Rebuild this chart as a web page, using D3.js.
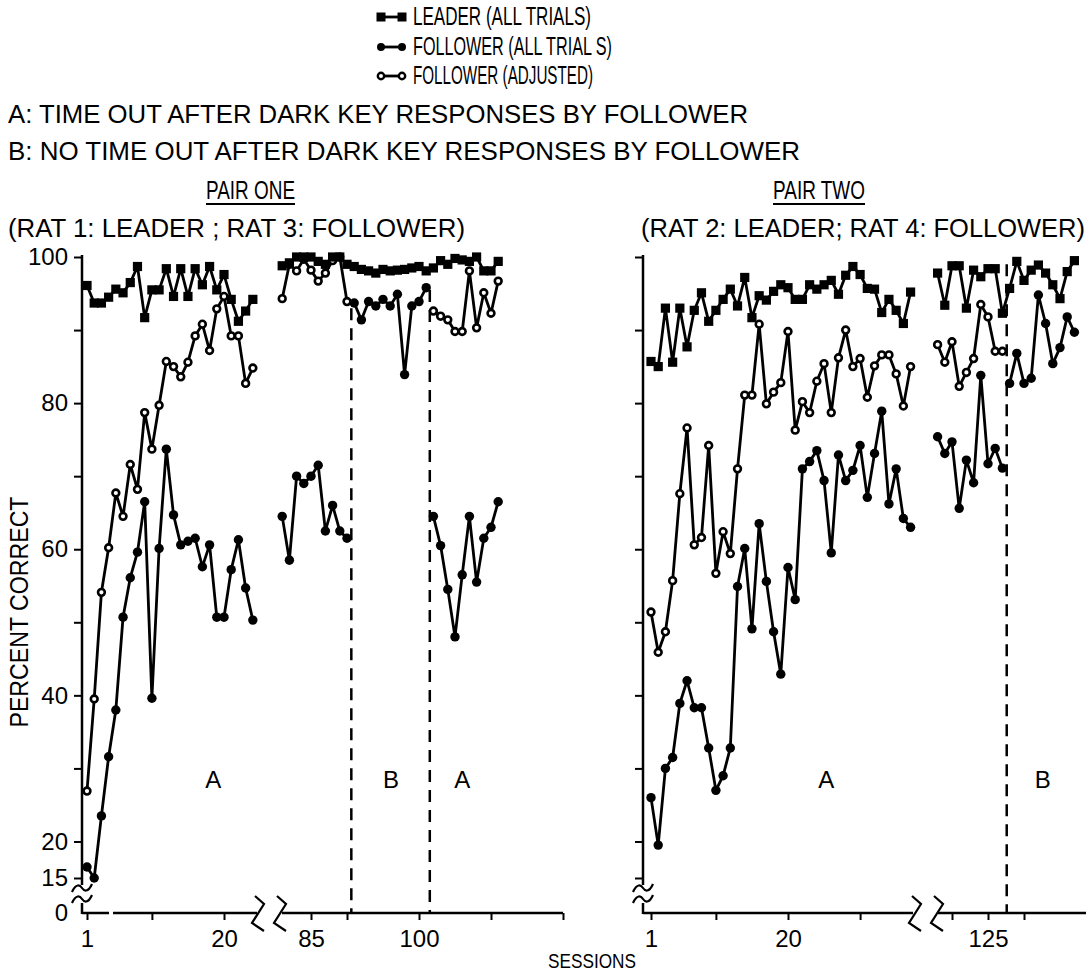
<!DOCTYPE html>
<html>
<head>
<meta charset="utf-8">
<script src="https://cdn.jsdelivr.net/npm/d3@7"></script>
<style>
  body { margin: 0; background: #fff; }
  svg { display: block; }
</style>
</head>
<body>
<svg id="chart" width="1092" height="974"></svg>
<script>
// ---------------- data (percent correct per session) ----------------
// Pair one: rat 1 leader, rat 3 follower
const p1EarlyStart = 1;
const p1LeaderEarly   = [96.1,93.7,93.7,94.5,95.6,95.1,96.5,98.7,91.7,95.5,95.5,98.4,94.6,98.4,94.6,98.4,96.2,98.7,95.5,97.6,94.2,91.2,92.6,94.2];
const p1FollowerEarly = [16.5,15.0,23.5,31.6,38.0,50.7,56.1,59.6,66.5,39.6,60.1,73.7,64.7,60.6,61.1,61.5,57.6,60.6,50.7,50.7,57.2,61.3,54.7,50.3];
const p1AdjustedEarly = [26.9,39.5,54.1,60.2,67.7,64.5,71.6,68.2,78.7,73.7,79.7,85.7,85.0,83.6,85.6,89.2,90.8,87.2,92.9,94.6,89.2,89.2,82.7,84.8];

const p1LateStart = 81;
const p1LeaderLate = [98.8,99.2,100,100,100,99.4,99.0,100,100,99.0,
                      98.7,98.3,98.1,97.8,98.3,98.1,98.2,98.3,98.5,98.7,98.1,
                      98.5,99.5,99.0,99.8,99.6,99.4,100,98.1,98.1,99.4];
const p1FollowerA1 = [64.5,58.5,70,69,70,71.5,62.5,66,62.5,61.5];          // sessions 81-90
const p1AdjustedA1 = [94.3,99.0,98.1,99.7,98.2,96.7,97.8,99.5,100,93.9];    // sessions 81-90
const p1FollowerBStart = 91;
const p1FollowerB  = [93.7,91.4,93.9,93.3,94.2,93.3,94.9,83.9,93.3,93.9,95.8]; // sessions 91-101
const p1A2Start = 102;
const p1FollowerA2 = [64.5,60.5,54.5,48,56.5,64.5,55.5,61.5,63,66.5];       // sessions 102-111
const p1AdjustedA2 = [92.6,91.9,91.4,89.8,89.8,98.1,90.3,95.1,92.3,96.7];   // sessions 102-111

// Pair two: rat 2 leader, rat 4 follower
const p2EarlyStart = 1;
const p2LeaderEarly   = [85.7,85.0,93.0,85.6,93.0,87.7,92.7,95.1,91.2,92.7,94.2,95.6,93.3,97.2,91.7,94.7,94.1,95.3,96.2,95.8,
                         94.2,94.2,96.2,95.6,96.2,96.8,94.9,97.5,98.7,97.6,95.7,95.6,92.4,94.2,92.7,90.9,95.2];
const p2FollowerEarly = [26,19.5,30,31.5,38.9,42,38.3,38.3,32.8,27,29,32.8,54.9,60.1,49.1,63.5,55.6,48.7,42.9,57.5,
                         53.1,71,72,73.5,69.4,59.5,72.9,69.4,70.8,74.2,67.1,73.1,78.9,66.2,71,64.2,63];
const p2AdjustedEarly = [51.4,45.9,48.7,55.7,67.6,76.6,60.6,61.6,74.2,56.7,62.4,59.4,71.0,81.1,81.1,90.8,79.9,81.5,82.8,89.8,
                         76.3,80.2,78.7,83.0,85.4,78.7,86.2,90.0,85.0,86.1,80.8,85.1,86.6,86.6,84.0,79.6,85.0];

const p2LateStart = 118;
const p2LeaderLate   = [97.8,93.4,98.8,98.8,93.0,98.2,97.3,98.4,98.4,92.3,
                        95.7,99.4,96.8,98.2,98.9,97.8,96.2,94.3,98.0,99.5];
const p2FollowerA    = [75.4,73.1,74.7,65.6,72.2,69.1,83.8,71.7,73.8,71.1];   // sessions 118-127
const p2AdjustedA    = [88.0,85.6,88.4,82.3,84.2,86.1,93.5,91.8,87.1,87.1];   // sessions 118-127
const p2FollowerBStart = 128;
const p2FollowerB    = [82.7,86.8,82.7,83.4,94.8,90.9,85.4,87.6,91.8,89.7];   // sessions 128-137

// condition changes (session boundaries) and phase labels
const p1Boundaries = [90.6, 101.5];
const p2Boundaries = [127.6];
const p1PhaseLabels = [{s: 18.5, seg: 0, t: "A"}, {s: 96.1, seg: 1, t: "B"}, {s: 106, seg: 1, t: "A"}];
const p2PhaseLabels = [{s: 25.3, seg: 0, t: "A"}, {s: 132.6, seg: 1, t: "B"}];

// axis ticks
const yTickValues = [15, 20, 30, 40, 50, 60, 70, 80, 90, 100];
const yTickLabels = [15, 20, 40, 60, 80, 100];
const p1SegTicks = [[1, 10, 20], [85, 90, 100, 110, 120]];
const p1SegLabels = [[1, 20], [85, 100]];
const p2SegTicks = [[1, 10, 20, 30], [120, 125, 130]];
const p2SegLabels = [[1, 20], [125]];

// ---------------- layout ----------------
const FONT = "'Liberation Sans', Arial, Helvetica, sans-serif";
const svg = d3.select("#chart");
const y = d3.scaleLinear().domain([15, 100]).range([878, 257]);
const Y_ZERO = 913;

const panels = [
  {
    yAxisX: 82, showYLabels: true,
    segs: [
      {x: d3.scaleLinear().domain([1, 20]).range([87, 224]), line: [[82, 109], [113, 257]], ticks: p1SegTicks[0], labels: p1SegLabels[0]},
      {x: d3.scaleLinear().domain([85, 100]).range([311, 419]), line: [[282, 563]], ticks: p1SegTicks[1], labels: p1SegLabels[1]}
    ],
    breaks: [258, 280],
    boundaries: p1Boundaries, boundaryTops: [93, 95.5], phases: p1PhaseLabels
  },
  {
    yAxisX: 643, showYLabels: false,
    segs: [
      {x: d3.scaleLinear().domain([1, 20]).range([651, 788]), line: [[643, 913]], ticks: p2SegTicks[0], labels: p2SegLabels[0]},
      {x: d3.scaleLinear().domain([120, 130]).range([952, 1024]), line: [[938, 1086]], ticks: p2SegTicks[1], labels: p2SegLabels[1]}
    ],
    breaks: [915, 937],
    boundaries: p2Boundaries, boundaryTops: [99], phases: p2PhaseLabels
  }
];

// ---------------- axes ----------------
panels.forEach(p => {
  const g = svg.append("g");
  // y axis with ticks
  const ya = g.append("g").attr("transform", `translate(${p.yAxisX},0)`)
    .call(d3.axisLeft(y).tickValues(yTickValues).tickSize(8).tickPadding(6)
      .tickFormat(d => p.showYLabels && yTickLabels.includes(d) ? d : ""));
  ya.select(".domain").remove();
  ya.selectAll("line").attr("stroke", "#000").attr("stroke-width", 2);
  ya.selectAll("text").attr("font-family", FONT).attr("font-size", 24).attr("fill", "#000");
  // y axis line with break above zero
  g.append("line").attr("x1", p.yAxisX).attr("x2", p.yAxisX).attr("y1", y(100) - 2).attr("y2", 885)
    .attr("stroke", "#000").attr("stroke-width", 2.5);
  g.append("line").attr("x1", p.yAxisX).attr("x2", p.yAxisX).attr("y1", 903).attr("y2", Y_ZERO + 1)
    .attr("stroke", "#000").attr("stroke-width", 2.5);
  [888, 899].forEach(by => {
    g.append("path")
      .attr("d", `M${p.yAxisX - 10},${by + 4} C${p.yAxisX - 6},${by - 5} ${p.yAxisX - 2},${by - 3} ${p.yAxisX},${by} S${p.yAxisX + 6},${by + 5} ${p.yAxisX + 10},${by - 4}`)
      .attr("fill", "none").attr("stroke", "#000").attr("stroke-width", 2.2);
  });
  if (p.showYLabels) {
    g.append("text").attr("x", p.yAxisX - 14).attr("y", Y_ZERO).attr("dy", "0.35em")
      .attr("text-anchor", "end").attr("font-family", FONT).attr("font-size", 24).text("0");
  }
  // x axis segments
  p.segs.forEach(s => {
    const xa = g.append("g").attr("transform", `translate(0,${Y_ZERO})`)
      .call(d3.axisBottom(s.x).tickValues(s.ticks).tickSize(7).tickPadding(10)
        .tickFormat(d => s.labels.includes(d) ? d : ""));
    xa.select(".domain").remove();
    xa.selectAll("line").attr("stroke", "#000").attr("stroke-width", 2);
    xa.selectAll("text").attr("font-family", FONT).attr("font-size", 24).attr("fill", "#000");
    s.line.forEach(([a, b]) => {
      g.append("line").attr("x1", a).attr("x2", b).attr("y1", Y_ZERO).attr("y2", Y_ZERO)
        .attr("stroke", "#000").attr("stroke-width", 2.5);
    });
  });
  // x axis break marks
  p.breaks.forEach(bx => {
    g.append("path")
      .attr("d", `M${bx - 3},${Y_ZERO - 17} L${bx + 6},${Y_ZERO - 9} L${bx - 6},${Y_ZERO + 10} L${bx + 6},${Y_ZERO + 18}`)
      .attr("fill", "none").attr("stroke", "#000").attr("stroke-width", 2.2);
  });
  // condition boundaries
  const lastSeg = p.segs[1];
  p.boundaries.forEach((b, i) => {
    g.append("line").attr("x1", lastSeg.x(b)).attr("x2", lastSeg.x(b))
      .attr("y1", y(p.boundaryTops[i])).attr("y2", Y_ZERO)
      .attr("stroke", "#000").attr("stroke-width", 2.5).attr("stroke-dasharray", "12,8");
  });
  // phase letters
  p.phases.forEach(ph => {
    g.append("text").attr("x", p.segs[ph.seg].x(ph.s)).attr("y", y(28.5)).attr("dy", "0.35em")
      .attr("text-anchor", "middle").attr("font-family", FONT).attr("font-size", 24).text(ph.t);
  });
});

// ---------------- series ----------------
const plot = svg.append("g");
const lineGen = d3.line().x(d => d.px).y(d => d.py);

function pts(seg, start, values) {
  return values.map((v, i) => ({s: start + i, v, px: seg.x(start + i), py: y(v)}));
}
function drawLine(points) {
  plot.append("path").attr("d", lineGen(points)).attr("fill", "none")
    .attr("stroke", "#000").attr("stroke-width", 2.8).attr("stroke-linejoin", "round");
}
const markerLayer = svg.append("g");
function drawMarkers(points, kind) {
  if (kind === "square") {
    markerLayer.selectAll(null).data(points).enter().append("rect")
      .attr("x", d => d.px - 4.6).attr("y", d => d.py - 4.6).attr("width", 9.2).attr("height", 9.2).attr("fill", "#000");
  } else if (kind === "filled") {
    markerLayer.selectAll(null).data(points).enter().append("circle")
      .attr("cx", d => d.px).attr("cy", d => d.py).attr("r", 4.7).attr("fill", "#000");
  } else {
    markerLayer.selectAll(null).data(points).enter().append("circle")
      .attr("cx", d => d.px).attr("cy", d => d.py).attr("r", 3.4)
      .attr("fill", "#fff").attr("stroke", "#000").attr("stroke-width", 2.6);
  }
}
function series(seg, start, values, kind, joinFrom) {
  const p = pts(seg, start, values);
  drawLine(joinFrom ? [joinFrom].concat(p) : p);
  drawMarkers(p, kind);
  return p;
}

const L = panels[0].segs, R = panels[1].segs;
// pair one
series(L[0], p1EarlyStart, p1FollowerEarly, "filled");
series(L[0], p1EarlyStart, p1AdjustedEarly, "open");
series(L[0], p1EarlyStart, p1LeaderEarly, "square");
series(L[1], p1LateStart, p1FollowerA1, "filled");
const p1Adj1 = series(L[1], p1LateStart, p1AdjustedA1, "open");
series(L[1], p1FollowerBStart, p1FollowerB, "filled", p1Adj1[p1Adj1.length - 1]);
series(L[1], p1A2Start, p1FollowerA2, "filled");
series(L[1], p1A2Start, p1AdjustedA2, "open");
series(L[1], p1LateStart, p1LeaderLate, "square");
// pair two
series(R[0], p2EarlyStart, p2FollowerEarly, "filled");
series(R[0], p2EarlyStart, p2AdjustedEarly, "open");
series(R[0], p2EarlyStart, p2LeaderEarly, "square");
series(R[1], p2LateStart, p2FollowerA, "filled");
series(R[1], p2LateStart, p2AdjustedA, "open");
series(R[1], p2FollowerBStart, p2FollowerB, "filled");
series(R[1], p2LateStart, p2LeaderLate, "square");

// ---------------- titles, legend, axis titles ----------------
function label(txt, x, yy, opts = {}) {
  const t = svg.append("text").attr("x", x).attr("y", yy)
    .attr("font-family", FONT).attr("font-size", opts.size || 24).attr("fill", "#000")
    .attr("text-anchor", opts.anchor || "start").text(txt);
  if (opts.width) t.attr("textLength", opts.width).attr("lengthAdjust", "spacingAndGlyphs");
  return t;
}
const legendItems = [
  {t: "LEADER (ALL TRIALS)", kind: "square", yy: 16, w: 178},
  {t: "FOLLOWER (ALL TRIAL S)", kind: "filled", yy: 46, w: 199},
  {t: "FOLLOWER (ADJUSTED)", kind: "open", yy: 75, w: 180}
];
legendItems.forEach(it => {
  const g = svg.append("g");
  g.append("line").attr("x1", 381).attr("x2", 402).attr("y1", it.yy + 1).attr("y2", it.yy + 1)
    .attr("stroke", "#000").attr("stroke-width", 2.8);
  const ends = [{px: 381, py: it.yy + 1}, {px: 402, py: it.yy + 1}];
  if (it.kind === "square") {
    g.selectAll(null).data(ends).enter().append("rect").attr("x", d => d.px - 4.5).attr("y", d => d.py - 4.5)
      .attr("width", 9).attr("height", 9).attr("fill", "#000");
  } else if (it.kind === "filled") {
    g.selectAll(null).data(ends).enter().append("circle").attr("cx", d => d.px).attr("cy", d => d.py).attr("r", 4).attr("fill", "#000");
  } else {
    g.selectAll(null).data(ends).enter().append("circle").attr("cx", d => d.px).attr("cy", d => d.py).attr("r", 3.2)
      .attr("fill", "#fff").attr("stroke", "#000").attr("stroke-width", 2.4);
  }
  label(it.t, 413, it.yy + 9, {width: it.w, size: 25});
});

label("A: TIME OUT AFTER DARK KEY RESPONSES BY FOLLOWER", 8, 123, {width: 740, size: 25});
label("B: NO TIME OUT AFTER DARK KEY RESPONSES BY FOLLOWER", 8, 160, {width: 792, size: 25});

label("PAIR ONE", 206, 199, {width: 89, size: 25});
svg.append("line").attr("x1", 206).attr("x2", 295).attr("y1", 204).attr("y2", 204).attr("stroke", "#000").attr("stroke-width", 2);
label("(RAT 1: LEADER ; RAT 3: FOLLOWER)", 8, 237, {width: 457, size: 25});

label("PAIR TWO", 773, 199, {width: 92, size: 25});
svg.append("line").attr("x1", 773).attr("x2", 865).attr("y1", 204).attr("y2", 204).attr("stroke", "#000").attr("stroke-width", 2);
label("(RAT 2: LEADER; RAT 4: FOLLOWER)", 641, 237, {width: 444, size: 25});

label("SESSIONS", 548, 968, {width: 88, size: 20});
svg.append("text").attr("transform", "translate(28,612) rotate(-90)")
  .attr("text-anchor", "middle").attr("font-family", FONT).attr("font-size", 25)
  .attr("textLength", 231).attr("lengthAdjust", "spacingAndGlyphs").text("PERCENT  CORRECT");
</script>
</body>
</html>
